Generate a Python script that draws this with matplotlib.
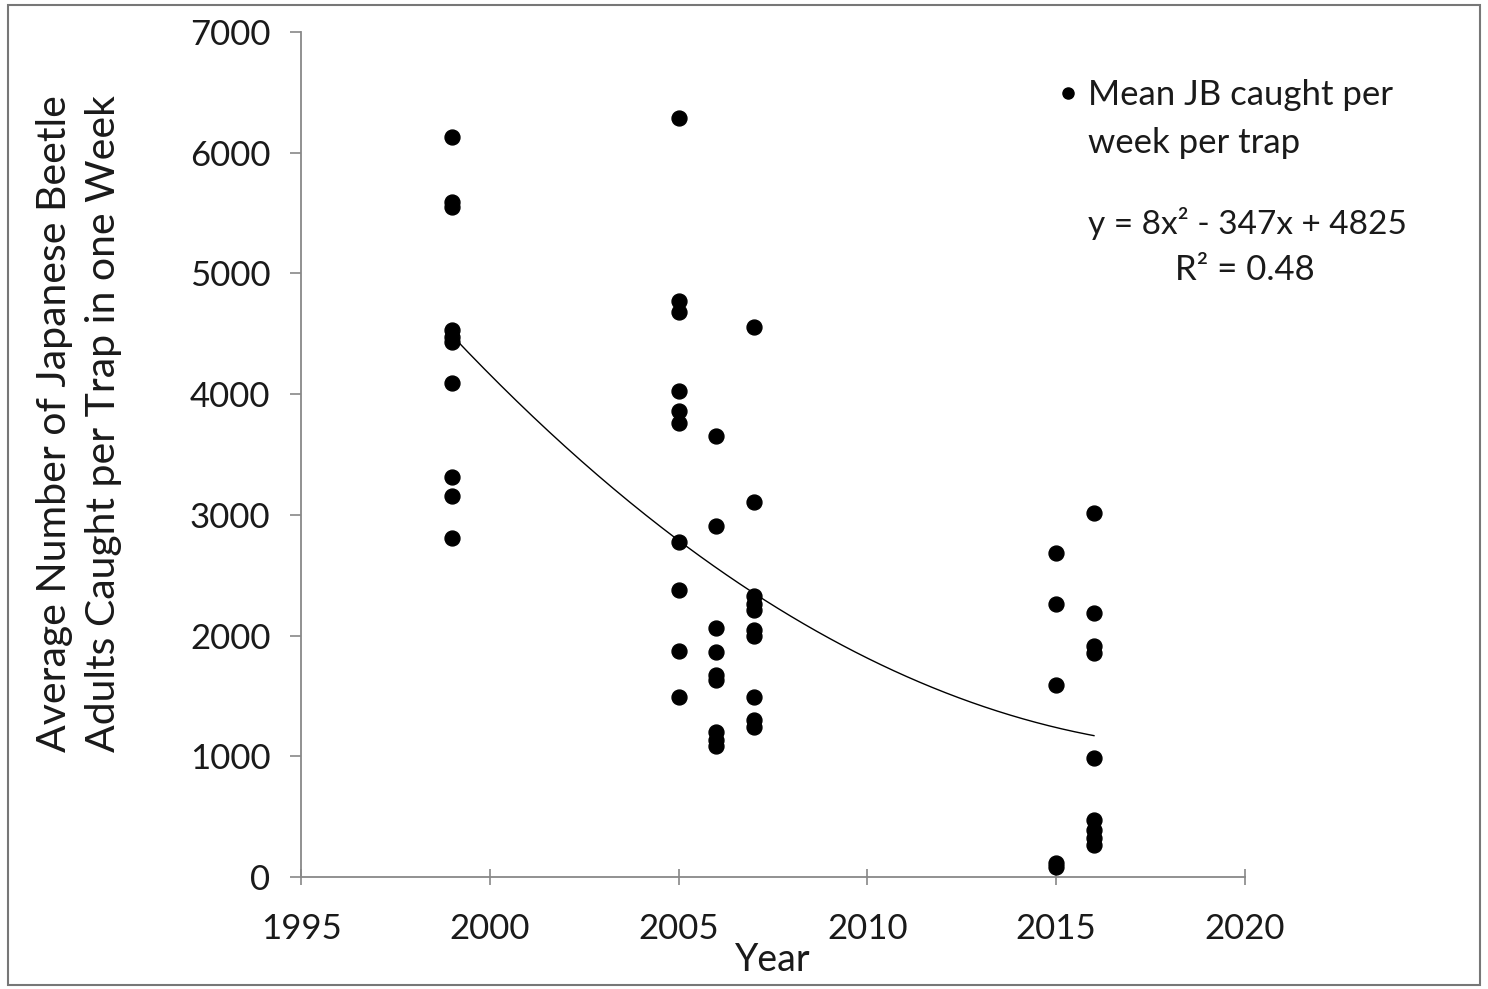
import numpy as np
import matplotlib
matplotlib.use("Agg")
import matplotlib.pyplot as plt
from matplotlib.patches import Rectangle

plt.rcParams['font.family'] = ['Lato', 'DejaVu Sans']

# mean JB caught per week per trap, by year
yr_1999 = [6130, 5590, 5550, 4530, 4470, 4430, 4090, 3310, 3160, 2810]
yr_2005 = [6290, 4770, 4680, 4030, 3860, 3760, 2775, 2380, 1870, 1490]
yr_2006 = [3650, 2910, 2060, 1860, 1670, 1630, 1200, 1135, 1085]
yr_2007 = [4560, 3105, 2330, 2260, 2210, 2045, 2000, 1490, 1300, 1240]
yr_2015 = [2685, 2260, 1590, 120, 80]
yr_2016 = [3015, 2190, 1915, 1855, 985, 470, 390, 320, 265]

years = [1999, 2005, 2006, 2007, 2015, 2016]
values = [yr_1999, yr_2005, yr_2006, yr_2007, yr_2015, yr_2016]

# trendline coefficients (x = year - 1998)
coef = [8, -347, 4825]

xs = []
ys = []
for y, v in zip(years, values):
    xs += [y] * len(v)
    ys += v

txt = '#1a1a1a'
fig = plt.figure(figsize=(14.88, 9.89), dpi=100)
ax = fig.add_axes([301/1488, 1 - 877/989, (1245-301)/1488, (877-32)/989])

ax.scatter(xs, ys, s=115, color='black', zorder=3)

tx = np.linspace(1999, 2016, 200)
ax.plot(tx, np.polyval(coef, tx - 1998), color='black', lw=1.0, zorder=2)

ax.set_xlim(1995, 2020)
ax.set_ylim(0, 7000)
ax.set_xticks(range(1995, 2021, 5))
ax.set_yticks(range(0, 7001, 1000))
ax.tick_params(labelsize=25, labelcolor=txt, color='#888888', width=1.2)
ax.tick_params(axis='x', direction='inout', length=12, pad=20)
ax.tick_params(axis='y', direction='out', length=8, pad=14)
for s in ['top', 'right']:
    ax.spines[s].set_visible(False)
for s in ['left', 'bottom']:
    ax.spines[s].set_color('#888888')
    ax.spines[s].set_linewidth(1.3)

ax.set_xlabel('Year', fontsize=27, labelpad=-2, color=txt)
ax.set_ylabel('Average Number of Japanese Beetle\nAdults Caught per Trap in one Week',
              fontsize=29.5, linespacing=1.4, color=txt)
ax.yaxis.set_label_coords(-0.190, 0.537)

# legend key: bullet next to first line of label
ax.plot([0.813], [0.928], marker='o', ms=8, color='black', transform=ax.transAxes,
        clip_on=False)
ax.text(0.834, 0.944, 'Mean JB caught per\nweek per trap', transform=ax.transAxes,
        fontsize=25, ha='left', va='top', color=txt, linespacing=1.6)

ax.text(0.834, 0.773, 'y = 8x² - 347x + 4825', transform=ax.transAxes,
        fontsize=24, ha='left', va='center', color=txt)
ax.text(1.0, 0.718, 'R² = 0.48', transform=ax.transAxes,
        fontsize=25, ha='center', va='center', color=txt)

fig.patches.append(Rectangle((8/1488, 4/989), 1472/1488, 980/989, transform=fig.transFigure,
                             fill=False, edgecolor='#777777', lw=1.5))

fig.savefig('out.png', dpi=100)
